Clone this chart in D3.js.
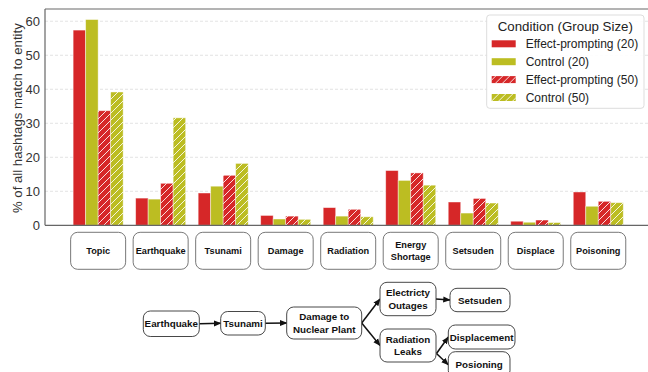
<!DOCTYPE html>
<html>
<head>
<meta charset="utf-8">
<script src="https://cdn.jsdelivr.net/npm/d3@7/dist/d3.min.js"></script>
<style>
  html, body { margin: 0; padding: 0; background: #fff; }
  svg { display: block; font-family: "Liberation Sans", Arial, Helvetica, sans-serif; }
</style>
</head>
<body>
<svg id="chart" width="648" height="372"></svg>
<script>
// Entity categories along the x axis (box labels, "\n" splits lines)
const categories = ["Topic", "Earthquake", "Tsunami", "Damage", "Radiation",
  "Energy\nShortage", "Setsuden", "Displace", "Poisoning"];

// Share of hashtags (%) matching each entity, one array per condition
const seriesNames = ["Effect-prompting (20)", "Control (20)", "Effect-prompting (50)", "Control (50)"];
const effect20  = [57.4, 8.0, 9.5, 2.9, 5.2, 16.1, 6.85, 1.2, 9.8];
const control20 = [60.5, 7.7, 11.5, 1.85, 2.7, 13.2, 3.6, 0.9, 5.6];
const effect50  = [33.7, 12.35, 14.7, 2.7, 4.7, 15.4, 7.9, 1.55, 7.05];
const control50 = [39.2, 31.6, 18.2, 1.75, 2.5, 11.8, 6.55, 0.8, 6.65];

const yTicks = [0, 10, 20, 30, 40, 50, 60];

// Causal chain diagram: node labels and links
const flowNodes = ["Earthquake", "Tsunami", "Damage to\nNuclear Plant", "Electricty\nOutages",
  "Radiation\nLeaks", "Setsuden", "Displacement", "Posioning"];
const flowLinks = [
  ["Earthquake", "Tsunami"], ["Tsunami", "Damage to\nNuclear Plant"],
  ["Damage to\nNuclear Plant", "Electricty\nOutages"], ["Damage to\nNuclear Plant", "Radiation\nLeaks"],
  ["Electricty\nOutages", "Setsuden"], ["Radiation\nLeaks", "Displacement"], ["Radiation\nLeaks", "Posioning"]
];

// ---- styles / layout ----
const RED = "#d62728", OLIVE = "#bcbd22";
const styles = [
  { color: RED, hatch: false }, { color: OLIVE, hatch: false },
  { color: RED, hatch: true }, { color: OLIVE, hatch: true }
];
const seriesValues = [effect20, control20, effect50, control50];

const svg = d3.select("#chart");
const plot = { left: 45, top: 9, bottom: 225.3, right: 651.4 };

const defs = svg.append("defs");
const pat = defs.append("pattern")
  .attr("id", "hatch").attr("patternUnits", "userSpaceOnUse")
  .attr("width", 7).attr("height", 7);
pat.append("path")
  .attr("d", "M-1,1 L1,-1 M0,7 L7,0 M6,8 L8,6")
  .attr("stroke", "#fff").attr("stroke-width", 1).attr("stroke-opacity", 0.85);

const x = d3.scaleLinear().domain([-0.85, categories.length - 0.15]).range([plot.left, plot.right]);
const y = d3.scaleLinear().domain([0, 63.6]).range([plot.bottom, plot.top]);
const barW = x(0.2) - x(0);

// gridlines
svg.append("g").selectAll("line").data(yTicks.filter(t => t > 0)).join("line")
  .attr("x1", plot.left).attr("x2", 648)
  .attr("y1", d => y(d)).attr("y2", d => y(d))
  .attr("stroke", "#dcdcdc").attr("stroke-width", 0.8).attr("stroke-dasharray", "3,2");

// y axis labels
const yAxis = d3.axisLeft(y).tickValues(yTicks).tickSize(0).tickPadding(5).tickFormat(d3.format("d"));
const gy = svg.append("g").attr("transform", `translate(${plot.left},0)`).call(yAxis);
gy.select(".domain").remove();
gy.selectAll("text").attr("font-size", 13).attr("fill", "#333")
  .attr("font-family", "'Liberation Sans', Arial, sans-serif");

svg.append("text")
  .attr("transform", `translate(22,${(plot.top + plot.bottom) / 2 + 1}) rotate(-90)`)
  .attr("text-anchor", "middle").attr("font-size", 13.2).attr("fill", "#333")
  .text("% of all hashtags match to entity");

// bars
const offsets = [-0.3, -0.1, 0.1, 0.3];
seriesValues.forEach((vals, s) => {
  const g = svg.append("g");
  const st = styles[s];
  vals.forEach((v, i) => {
    const cx = x(i + offsets[s]);
    g.append("rect")
      .attr("x", cx - barW / 2).attr("y", y(v))
      .attr("width", barW).attr("height", y(0) - y(v))
      .attr("fill", st.color)
      .attr("stroke", "rgba(255,255,255,0.55)").attr("stroke-width", 0.8);
    if (st.hatch) {
      g.append("rect")
        .attr("x", cx - barW / 2).attr("y", y(v))
        .attr("width", barW).attr("height", y(0) - y(v))
        .attr("fill", "url(#hatch)");
    }
  });
});

// spines
svg.append("line").attr("x1", plot.left).attr("x2", 648).attr("y1", plot.top).attr("y2", plot.top)
  .attr("stroke", "#9a9a9a").attr("stroke-width", 1.5);
svg.append("line").attr("x1", plot.left).attr("x2", plot.left).attr("y1", plot.top).attr("y2", plot.bottom)
  .attr("stroke", "#666").attr("stroke-width", 1.2);
svg.append("line").attr("x1", plot.left).attr("x2", 648).attr("y1", plot.bottom).attr("y2", plot.bottom)
  .attr("stroke", "#666").attr("stroke-width", 1.2);

// category boxes beneath the axis
const boxW = 55, boxTop = 232.3, boxH = 37;
const cat = svg.append("g").selectAll("g").data(categories).join("g")
  .attr("transform", (d, i) => `translate(${x(i)},${boxTop})`);
cat.append("rect")
  .attr("x", -boxW / 2).attr("y", 0).attr("width", boxW).attr("height", boxH)
  .attr("rx", 7).attr("ry", 7).attr("fill", "#fff").attr("stroke", "#555").attr("stroke-width", 0.8);
cat.each(function (d) {
  const lines = d.split("\n");
  const t = d3.select(this).append("text")
    .attr("text-anchor", "middle").attr("font-size", 9.2).attr("font-weight", "bold").attr("fill", "#111");
  lines.forEach((ln, k) => {
    t.append("tspan").attr("x", 0)
      .attr("y", boxH / 2 + 3.2 + (k - (lines.length - 1) / 2) * 12)
      .text(ln);
  });
});

// legend
const lg = svg.append("g").attr("transform", "translate(486.7,15)");
lg.append("rect").attr("width", 157.3).attr("height", 93.3).attr("rx", 3)
  .attr("fill", "rgba(255,255,255,0.9)").attr("stroke", "#ddd").attr("stroke-width", 1);
lg.append("text").attr("x", 78.6).attr("y", 15.5).attr("text-anchor", "middle")
  .attr("font-size", 13.3).attr("fill", "#222").text("Condition (Group Size)");
seriesNames.forEach((name, s) => {
  const yy = 28.7 + s * 17.9;
  lg.append("rect").attr("x", 5).attr("y", yy - 3.4).attr("width", 24).attr("height", 7)
    .attr("fill", styles[s].color);
  if (styles[s].hatch) {
    lg.append("rect").attr("x", 5).attr("y", yy - 3.4).attr("width", 24).attr("height", 7)
      .attr("fill", "url(#hatch)");
  }
  lg.append("text").attr("x", 39).attr("y", yy + 4.4).attr("font-size", 12).attr("fill", "#222").text(name);
});

// causal chain diagram
const flowLayout = {
  "Earthquake": [143.3, 311, 56, 25.5],
  "Tsunami": [220.7, 311.5, 44.6, 23.5],
  "Damage to\nNuclear Plant": [286.7, 307, 75, 32],
  "Electricty\nOutages": [380, 282.3, 56, 33.4],
  "Radiation\nLeaks": [380, 329, 56, 33],
  "Setsuden": [450, 288.3, 60, 23.4],
  "Displacement": [448.3, 325, 66.7, 24],
  "Posioning": [448.3, 351.7, 61.7, 26]
};
const arrowDefs = defs.append("marker").attr("id", "arrow")
  .attr("viewBox", "0 0 10 10").attr("refX", 9).attr("refY", 5)
  .attr("markerWidth", 5).attr("markerHeight", 5).attr("orient", "auto-start-reverse");
arrowDefs.append("path").attr("d", "M0,1 L10,5 L0,9 z").attr("fill", "#111");

const fl = svg.append("g");
const portR = n => { const b = flowLayout[n]; return [b[0] + b[2], b[1] + b[3] / 2]; };
const portL = n => { const b = flowLayout[n]; return [b[0], b[1] + b[3] / 2]; };
flowLinks.forEach(([a, b]) => {
  let p0 = portR(a), p1 = portL(b);
  if (a === "Radiation\nLeaks") p0 = [p0[0] + 0.5, p0[1] + 8];
  fl.append("line").attr("x1", p0[0]).attr("y1", p0[1]).attr("x2", p1[0]).attr("y2", p1[1])
    .attr("stroke", "#111").attr("stroke-width", 1.5).attr("marker-end", "url(#arrow)");
});
const fn = fl.selectAll("g.node").data(flowNodes).join("g").attr("class", "node")
  .attr("transform", d => `translate(${flowLayout[d][0]},${flowLayout[d][1]})`);
fn.append("rect")
  .attr("width", d => flowLayout[d][2]).attr("height", d => flowLayout[d][3])
  .attr("rx", 7).attr("ry", 7).attr("fill", "#fff").attr("stroke", "#333").attr("stroke-width", 0.9);
fn.each(function (d) {
  const [, , w, h] = flowLayout[d];
  const lines = d.split("\n");
  const t = d3.select(this).append("text").attr("text-anchor", "middle")
    .attr("font-size", 9.8).attr("font-weight", "bold").attr("fill", "#111");
  lines.forEach((ln, k) => {
    t.append("tspan").attr("x", w / 2)
      .attr("y", h / 2 + 3.6 + (k - (lines.length - 1) / 2) * 12.5)
      .text(ln);
  });
});
</script>
</body>
</html>
